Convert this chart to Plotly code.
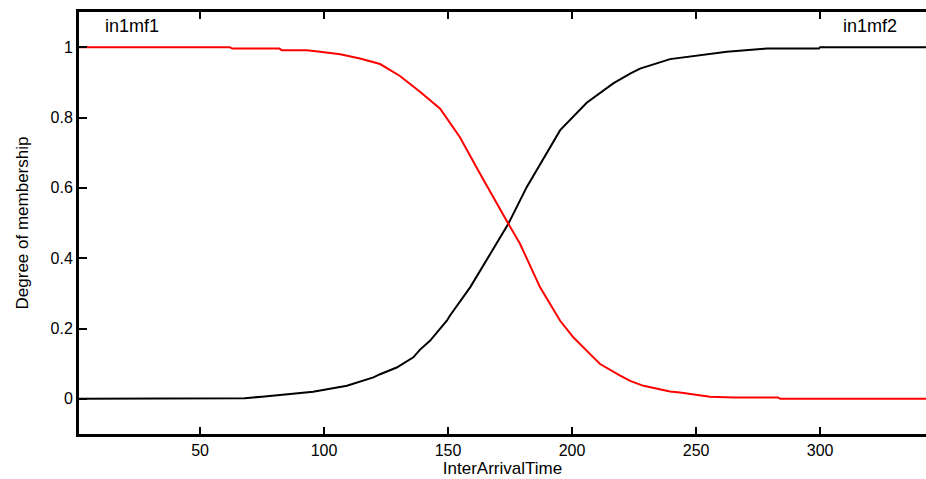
import plotly.graph_objects as go

# Membership function in1mf1 (red, decreasing)
mf1_x = [1.2, 62, 63, 82, 83, 93, 98.4, 106.5, 114.5, 122.6, 130.6, 138.7, 146.8, 154.8,
         162.9, 171.0, 174.3, 179.0, 187.1, 195.2, 200.5, 208.6, 211.3, 219.4, 223.4,
         228.8, 239.5, 243.5, 255.6, 265.0, 283.0, 284.0, 342.7]
mf1_y = [1.0, 1.0, 0.996, 0.996, 0.991, 0.991, 0.987, 0.980, 0.968, 0.952, 0.918, 0.873,
         0.825, 0.744, 0.640, 0.536, 0.498, 0.441, 0.317, 0.222, 0.175, 0.118, 0.099,
         0.066, 0.051, 0.037, 0.021, 0.018, 0.006, 0.004, 0.004, 0.0, 0.0]

# Membership function in1mf2 (black, increasing)
mf2_x = [1.2, 47, 48, 68, 75, 82.3, 95.6, 109.2, 119.9, 122.6, 129.3, 136.0, 138.7, 142.7,
         149.5, 150.8, 158.9, 167.0, 174.3, 181.7, 189.8, 195.2, 205.9, 216.6, 223.4,
         227.4, 239.5, 243.5, 262.4, 278.5, 299.5, 300.0, 342.7]
mf2_y = [0.0, 0.0, 0.002, 0.002, 0.006, 0.011, 0.020, 0.037, 0.061, 0.070, 0.089, 0.118,
         0.140, 0.165, 0.222, 0.237, 0.317, 0.412, 0.498, 0.602, 0.697, 0.764, 0.842,
         0.897, 0.925, 0.939, 0.966, 0.970, 0.987, 0.996, 0.996, 1.0, 1.0]

x_ticks = [50, 100, 150, 200, 250, 300]
y_ticks = [0, 0.2, 0.4, 0.6, 0.8, 1]
y_tick_text = ["0", "0.2", "0.4", "0.6", "0.8", "1"]
mf_labels = ["in1mf1", "in1mf2"]
label_x = [22.6, 320.2]
label_y = [1.06, 1.06]

font = "Liberation Sans, Arial, sans-serif"

fig = go.Figure()
fig.add_trace(go.Scatter(x=mf2_x, y=mf2_y, mode="lines",
                         line=dict(color="black", width=2), showlegend=False))
fig.add_trace(go.Scatter(x=mf1_x, y=mf1_y, mode="lines",
                         line=dict(color="#ff0000", width=2), showlegend=False))

for t, lx, ly in zip(mf_labels, label_x, label_y):
    fig.add_annotation(x=lx, y=ly, text=t, showarrow=False, xanchor="center",
                       yanchor="middle", font=dict(family=font, size=18, color="black"))

fig.update_layout(
    width=926, height=479,
    margin=dict(l=79, r=0, t=12, b=45, autoexpand=False),
    paper_bgcolor="white", plot_bgcolor="white",
    font=dict(family=font, color="black"),
    hovermode=False,
    xaxis=dict(range=[1.2, 342.7], tickvals=x_ticks, ticks="inside", ticklen=7,
               tickwidth=2, tickcolor="black", showline=True, linewidth=3,
               linecolor="black", mirror="ticks", showgrid=False, zeroline=False,
               automargin=False,
               tickfont=dict(family=font, size=16, color="black"),
               title=dict(text="InterArrivalTime", standoff=2,
                          font=dict(family=font, size=17, color="black"))),
    yaxis=dict(range=[-0.1, 1.1], tickvals=y_ticks, ticktext=y_tick_text,
               ticks="inside", ticklen=8, tickwidth=2, tickcolor="black",
               showline=True, linewidth=3, linecolor="black", mirror=False,
               showgrid=False, zeroline=False, automargin=False,
               tickfont=dict(family=font, size=16, color="black"),
               title=dict(text="Degree of membership", standoff=18,
                          font=dict(family="Liberation Sans Narrow, Liberation Sans, Arial", size=17, color="black"))),
)

fig.write_html("out.html", config={"displayModeBar": False, "staticPlot": True},
               post_script="document.body.style.margin='0px';document.body.style.overflow='hidden';")
